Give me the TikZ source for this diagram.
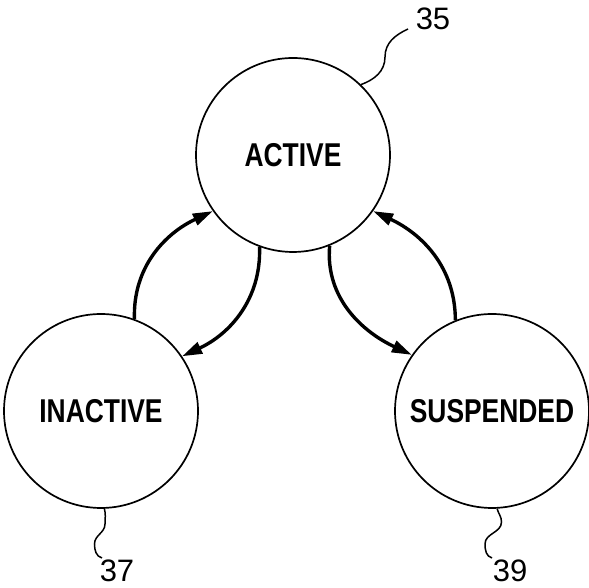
\documentclass[tikz,border=0pt]{standalone}
\usepackage{fontspec}
\setmainfont{Liberation Sans}
\newfontfamily\condfont[FakeStretch=0.8]{Liberation Sans}
\usetikzlibrary{arrows.meta}
\begin{document}
\begin{tikzpicture}[x=1pt,y=1pt,
  state/.style={circle,draw,line width=1.7pt,inner sep=0pt,minimum size=194pt,
    font=\condfont\bfseries\fontsize{33}{33}\selectfont},
  trans/.style={line width=3.4pt,-{Triangle[length=20pt,width=12pt]}},
  leader/.style={line width=1.5pt},
  refnum/.style={inner sep=0pt,font=\fontsize{31}{31}\selectfont}]
\useasboundingbox (0,0) rectangle (589,588);
\node[state] (active) at (293,433) {ACTIVE};
\node[state] (inactive) at (101,177) {INACTIVE};
\node[state] (susp) at (492,177) {SUSPENDED};
% transitions
\draw[trans] (inactive.70) to[out=92,in=205] (active.215);
\draw[trans] (active.250) to[out=-88,in=25] (inactive.34);
\draw[trans] (active.292) to[out=-95,in=155] (susp.145);
\draw[trans] (susp.112) to[out=90,in=335] (active.325);
% reference numerals
\node[refnum] (n35) at (433,569) {35};
\node[refnum] (n37) at (117,17) {37};
\node[refnum] (n39) at (510,17) {39};
\coordinate (e35) at (408,559);
\coordinate (e37) at (102,30);
\coordinate (e39) at (492,30);
\draw[leader] (active.46) to[out=20,in=-90] (385,531) to[out=90,in=205] (e35);
\draw[leader] (inactive.-88) to[out=-75,in=90] (105,64) to[out=-90,in=90] (94.5,44) to[out=-90,in=165] (e37);
\draw[leader] (susp.-87) to[out=-75,in=90] (501.5,66) to[out=-90,in=90] (485,44) to[out=-90,in=165] (e39);
\end{tikzpicture}
\end{document}
